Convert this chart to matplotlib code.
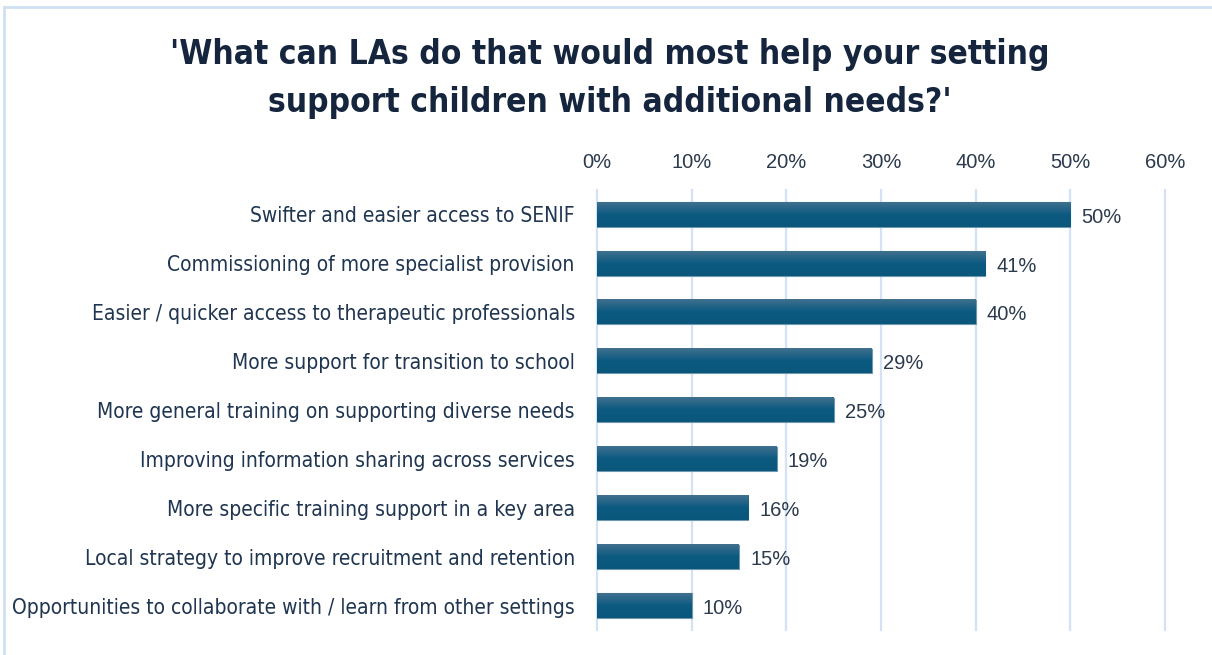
import numpy as np
import matplotlib
matplotlib.use("Agg")
import matplotlib.pyplot as plt
from matplotlib.lines import Line2D

# Survey responses (share of settings choosing each option)
categories = [
    "Swifter and easier access to SENIF",
    "Commissioning of more specialist provision",
    "Easier / quicker access to therapeutic professionals",
    "More support for transition to school",
    "More general training on supporting diverse needs",
    "Improving information sharing across services",
    "More specific training support in a key area",
    "Local strategy to improve recruitment and retention",
    "Opportunities to collaborate with / learn from other settings",
]
values = [50, 41, 40, 29, 25, 19, 16, 15, 10]
ticks = [0, 10, 20, 30, 40, 50, 60]

fig = plt.figure(figsize=(12.12, 6.55), dpi=100)
ax = fig.add_axes([0.4926, 0.038, 0.4686, 0.672])

y = np.arange(len(categories))
bars = ax.barh(y, values, height=0.5, color="#10597d", edgecolor="#6f97b0",
               linewidth=0.8, zorder=3)

# vertical gradient on each bar
grad = np.linspace(0, 1, 64).reshape(-1, 1)
cmap = matplotlib.colors.LinearSegmentedColormap.from_list("bar", ["#41708f", "#0c5a80", "#0b577c"])
for b in bars:
    x0, y0 = b.get_x(), b.get_y()
    w, h = b.get_width(), b.get_height()
    ax.imshow(grad, extent=[x0, x0 + w, y0 + h, y0], cmap=cmap, aspect="auto", zorder=3.5)

for b, v in zip(bars, values):
    ax.annotate(f"{v}%", (b.get_width(), b.get_y() + b.get_height() / 2),
                xytext=(8, -2), textcoords="offset points", va="center", ha="left",
                fontsize=14.5, color="#2b3a4d", family="Liberation Sans")

ax.set_xlim(0, 60)
ax.set_ylim(len(categories) - 0.5, -0.5)
ax.set_xticks(ticks)
ax.set_xticklabels([f"{t}%" for t in ticks], fontsize=14.5, color="#2b3a4d", family="Liberation Sans")
ax.xaxis.tick_top()
ax.tick_params(axis="x", length=0, pad=13)
ax.set_yticks(y)
ax.set_yticklabels(categories, fontsize=15, color="#1f3550", family="DejaVu Sans",
                   fontstretch="condensed")
ax.tick_params(axis="y", length=0, pad=16)
ax.grid(axis="x", color="#d3e3f4", linewidth=1.6, zorder=0)
for gl in ax.get_xgridlines():
    gl.set_clip_on(False)
for s in ax.spines.values():
    s.set_visible(False)

fig.text(0.503, 0.880, "'What can LAs do that would most help your setting\nsupport children with additional needs?'",
         ha="center", va="center", fontsize=24, fontweight="bold", color="#14253d",
         family="DejaVu Sans", fontstretch="condensed", linespacing=1.6)

# light frame along the top and left edge
fig.add_artist(Line2D([0.0035, 0.0035], [0, 0.989], transform=fig.transFigure, color="#cfe0f3", lw=2))
fig.add_artist(Line2D([0.0035, 1], [0.989, 0.989], transform=fig.transFigure, color="#cfe0f3", lw=2))

fig.savefig("out.png", dpi=100)
